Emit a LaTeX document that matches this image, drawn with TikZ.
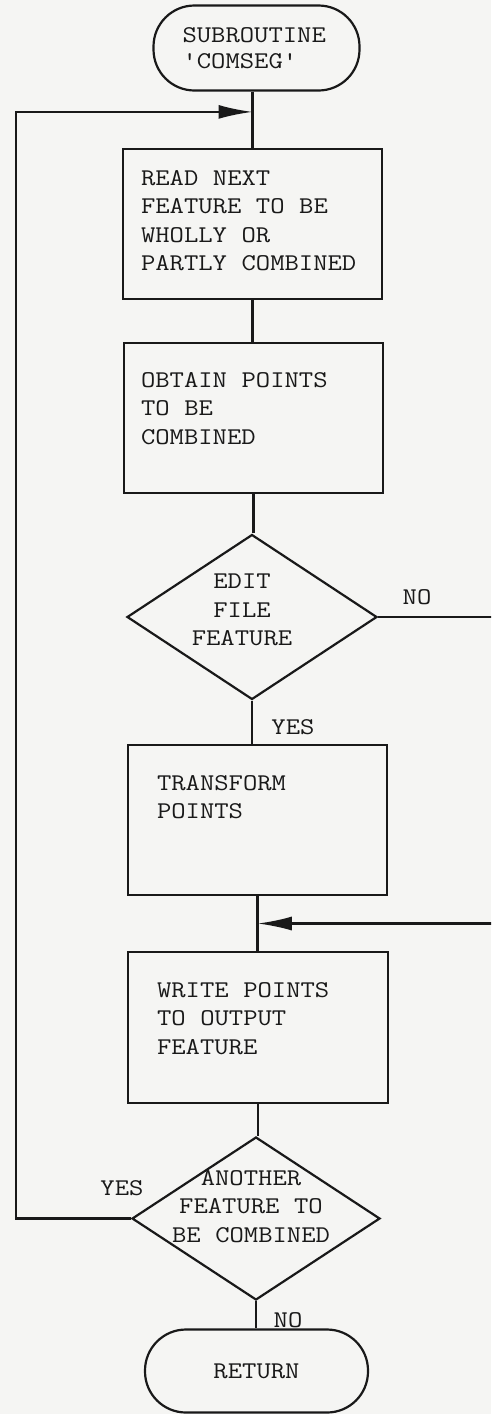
\documentclass[tikz,border=0pt]{standalone}
\usepackage{fontspec}
\setmonofont{Latin Modern Mono}[FakeStretch=1.16]
\usetikzlibrary{arrows.meta,calc,shapes.geometric}
\definecolor{bg}{RGB}{245,245,243}
\definecolor{ink}{RGB}{25,25,25}
\newcommand{\diagfont}{\ttfamily\fontsize{24}{28.5}\selectfont\spaceskip=14.6pt plus 0pt minus 0pt\relax}
\tikzset{
  every node/.style={font=\diagfont, text=ink},
  line/.style={draw=ink, line width=2.2pt},
  proc/.style={line, rectangle, minimum width=259pt, minimum height=150pt, align=flush left, inner ysep=0pt},
  term/.style={line, rectangle, rounded corners=41pt, align=flush left},
  decision/.style={line, diamond, inner sep=0pt},
  dtext/.style={align=flush center, inner sep=0pt},
  lab/.style={inner sep=0pt},
  flow/.style={line},
  arr/.style={line, -{Latex[length=34pt,width=14pt]}}
}
\begin{document}
\begin{tikzpicture}[x=1pt,y=-1pt]
\fill[bg] (0,0) rectangle (491,1414);
\useasboundingbox (0,0) rectangle (491,1414);
\clip (0,0) rectangle (491,1414);

% start terminal
\node[term, minimum width=206pt, minimum height=85pt, text width=148pt, inner xsep=0pt, xshift=4pt] (st) at (252.5,48) {SUBROUTINE\\[-2.5pt]'COMSEG'};

% process boxes
\node[proc, inner xsep=18pt, text width=223pt, text height=36pt, text depth=114pt] (b1) at (252.5,224)
  {READ NEXT\\FEATURE TO BE\\WHOLLY OR\\PARTLY COMBINED};
\node[proc, inner xsep=17pt, text width=225pt, text height=44pt, text depth=106pt] (b2) at (253.5,418)
  {OBTAIN POINTS\\TO BE\\COMBINED};

% decision 1
\node[decision, minimum width=250pt, minimum height=165pt,
  label={[dtext, xshift=-10pt, yshift=7pt]center:EDIT\\FILE\\FEATURE}] (d1) at (252,617) {};

\node[proc, inner xsep=29pt, text width=201pt, text height=45pt, text depth=105pt] (b3) at (257.5,820)
  {TRANSFORM\\POINTS};
\node[proc, inner xsep=29pt, text width=202pt, text height=45pt, text depth=106pt, minimum width=260pt] (b4) at (258,1027.5)
  {WRITE POINTS\\TO OUTPUT\\FEATURE};

% decision 2
\node[decision, minimum width=248pt, minimum height=163pt,
  label={[dtext, xshift=-5pt, yshift=12pt]center:ANOTHER\\FEATURE TO\\BE COMBINED}] (d2) at (256,1218.5) {};

% return terminal
\node[term, minimum width=223pt, minimum height=83pt] (ret) at (256.5,1371) {RETURN};

% branch labels
\node[lab] (no1) at (417,597) {NO};
\node[lab] (yes1) at (293,727) {YES};
\node[lab] (yes2) at (122,1188) {YES};
\node[lab] (no2) at (288,1320) {NO};

% junctions and route points
\coordinate (j1) at ($(b1.north)+(0,-36)$);
\coordinate (j2) at ($(b3.south)!0.5!(b4.north)$);
\coordinate (lx) at (16,0);
\coordinate (rx) at (497,0);

% main flow
\draw[flow] (st.south -| b1.north) -- (b1.north);
\draw[flow] (b1.south) -- (b1.south |- b2.north);
\draw[flow] (b2.south) -- (b2.south |- d1.north);
\draw[flow] (d1.south) -- (d1.south |- b3.north);
\draw[flow] (b3.south) -- (b3.south |- b4.north);
\draw[flow] (b4.south) -- (b4.south |- d2.north);
\draw[flow] (d2.south) -- (d2.south |- ret.north);

% NO branch of decision 1 (runs off the right edge)
\draw[arr] (d1.east) -- (rx |- d1.east) -- (rx |- j2) -- (j2);

% YES loop of decision 2
\draw[arr] (d2.west) -- (lx |- d2.west) -- (lx |- j1) -- (j1);
\end{tikzpicture}
\end{document}
